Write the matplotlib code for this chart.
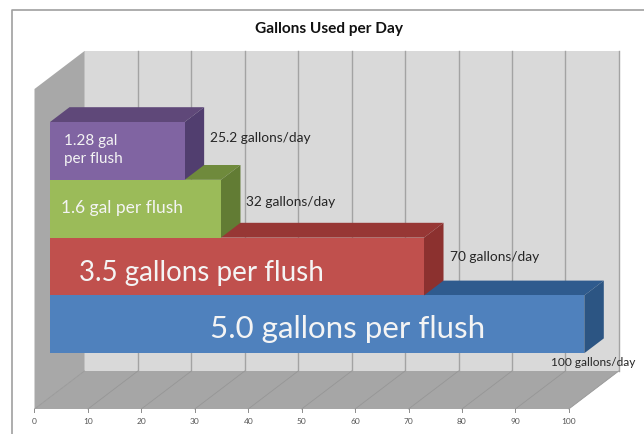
import matplotlib
matplotlib.use('Agg')
import matplotlib.pyplot as plt
from matplotlib.patches import Polygon

plt.rcParams['font.family'] = ['Lato', 'DejaVu Sans']

# data
values = [100, 70, 32, 25.2]
inside_labels = ['5.0 gallons per flush', '3.5 gallons per flush', '1.6 gal per flush', '1.28 gal\nper flush']
day_labels = ['100 gallons/day', '70 gallons/day', '32 gallons/day', '25.2 gallons/day']
ticks = [0, 10, 20, 30, 40, 50, 60, 70, 80, 90, 100]

front_cols = ['#4f81bd', '#c0504d', '#9bbb59', '#8064a2']
top_cols = ['#2f5b8e', '#973735', '#6f8a3c', '#5f4879']
side_cols = ['#2c5583', '#8c312f', '#627c34', '#513e6f']
label_sizes = [22.5, 20, 12.5, 11]
label_x = [210, 79, 61, 64]
label_y = [329, 273, 208, 150]
day_x = [551, 450, 246, 210]
day_y = [362, 257, 202, 137.5]
day_sizes = [8.6, 9.9, 9.9, 9.9]

W, H = 644, 434
fig = plt.figure(figsize=(W / 100, H / 100), dpi=100)
ax = fig.add_axes([0, 0, 1, 1])
ax.set_xlim(0, W)
ax.set_ylim(H, 0)
ax.axis('off')

# oblique projection of the 3d box
x0, y0 = 34.5, 409
per_unit = 5.343
depth_x, depth_y = 50, -38
wall_h = 320


def proj(v, h=0, d=0):
    return (x0 + v * per_unit + d * depth_x, y0 - h + d * depth_y)


def face(pts, col, z=1):
    ax.add_patch(Polygon(pts, closed=True, facecolor=col, edgecolor='none', zorder=z))


# chart frame, no right edge in the picture
ax.plot([12.5, 12.5, 644], [434, 9.5, 9.5], color='#a0a0a0', lw=1.2, zorder=0)

# walls and floor
face([proj(0, 0, 1), proj(100, 0, 1), proj(100, wall_h, 1), proj(0, wall_h, 1)], '#d9d9d9')
face([proj(0, 0, 0), proj(0, 0, 1), proj(0, wall_h, 1), proj(0, wall_h, 0)], '#a8a8a8')
face([proj(0, 0, 0), proj(100, 0, 0), proj(100, 0, 1), proj(0, 0, 1)], '#a6a6a6')

for t in ticks:
    if t > 0:
        a = proj(t, 0, 1)
        b = proj(t, wall_h, 1)
        ax.plot([a[0], b[0]], [a[1], b[1]], color='#a3a3a3', lw=1.0, zorder=2)
    a = proj(t, 0, 0)
    b = proj(t, 0, 1)
    ax.plot([a[0], b[0]], [a[1], b[1]], color='#969696', lw=0.6, zorder=2)
    ax.plot([a[0], a[0]], [a[1], a[1] + 3], color='#8c8c8c', lw=0.7, zorder=2)
    ax.text(a[0], a[1] + 13, str(t), fontsize=6, color='#555555', ha='center', va='center', zorder=6)

# bars, bottom one first: each upper bar sits over the top face of the one below
bar_h = 57.8
bar_d0, bar_d1 = 0.31, 0.70
base_h = 44
for i, v in enumerate(values):
    low = base_h + i * bar_h
    high = low + bar_h
    z = 10 + i
    fl = proj(0, low, bar_d0)
    fr = proj(v, low, bar_d0)
    tl = proj(0, high, bar_d0)
    tr = proj(v, high, bar_d0)
    bl = proj(0, high, bar_d1)
    br = proj(v, high, bar_d1)
    sb = proj(v, low, bar_d1)
    face([tl, tr, br, bl], top_cols[i], z)
    face([fr, sb, br, tr], side_cols[i], z)
    face([fl, fr, tr, tl], front_cols[i], z)

for i in range(len(values)):
    ax.text(label_x[i], label_y[i], inside_labels[i], fontsize=label_sizes[i], color='#f4f4f4',
            ha='left', va='center', linespacing=1.4, zorder=20)
    ax.text(day_x[i], day_y[i], day_labels[i], fontsize=day_sizes[i], color='#262626',
            ha='left', va='center', zorder=20)

ax.text(329, 28.5, 'Gallons Used per Day', fontsize=11.1, fontweight='bold', color='#111111',
        ha='center', va='center', zorder=20)

fig.savefig('out.png', dpi=100, facecolor='white')
